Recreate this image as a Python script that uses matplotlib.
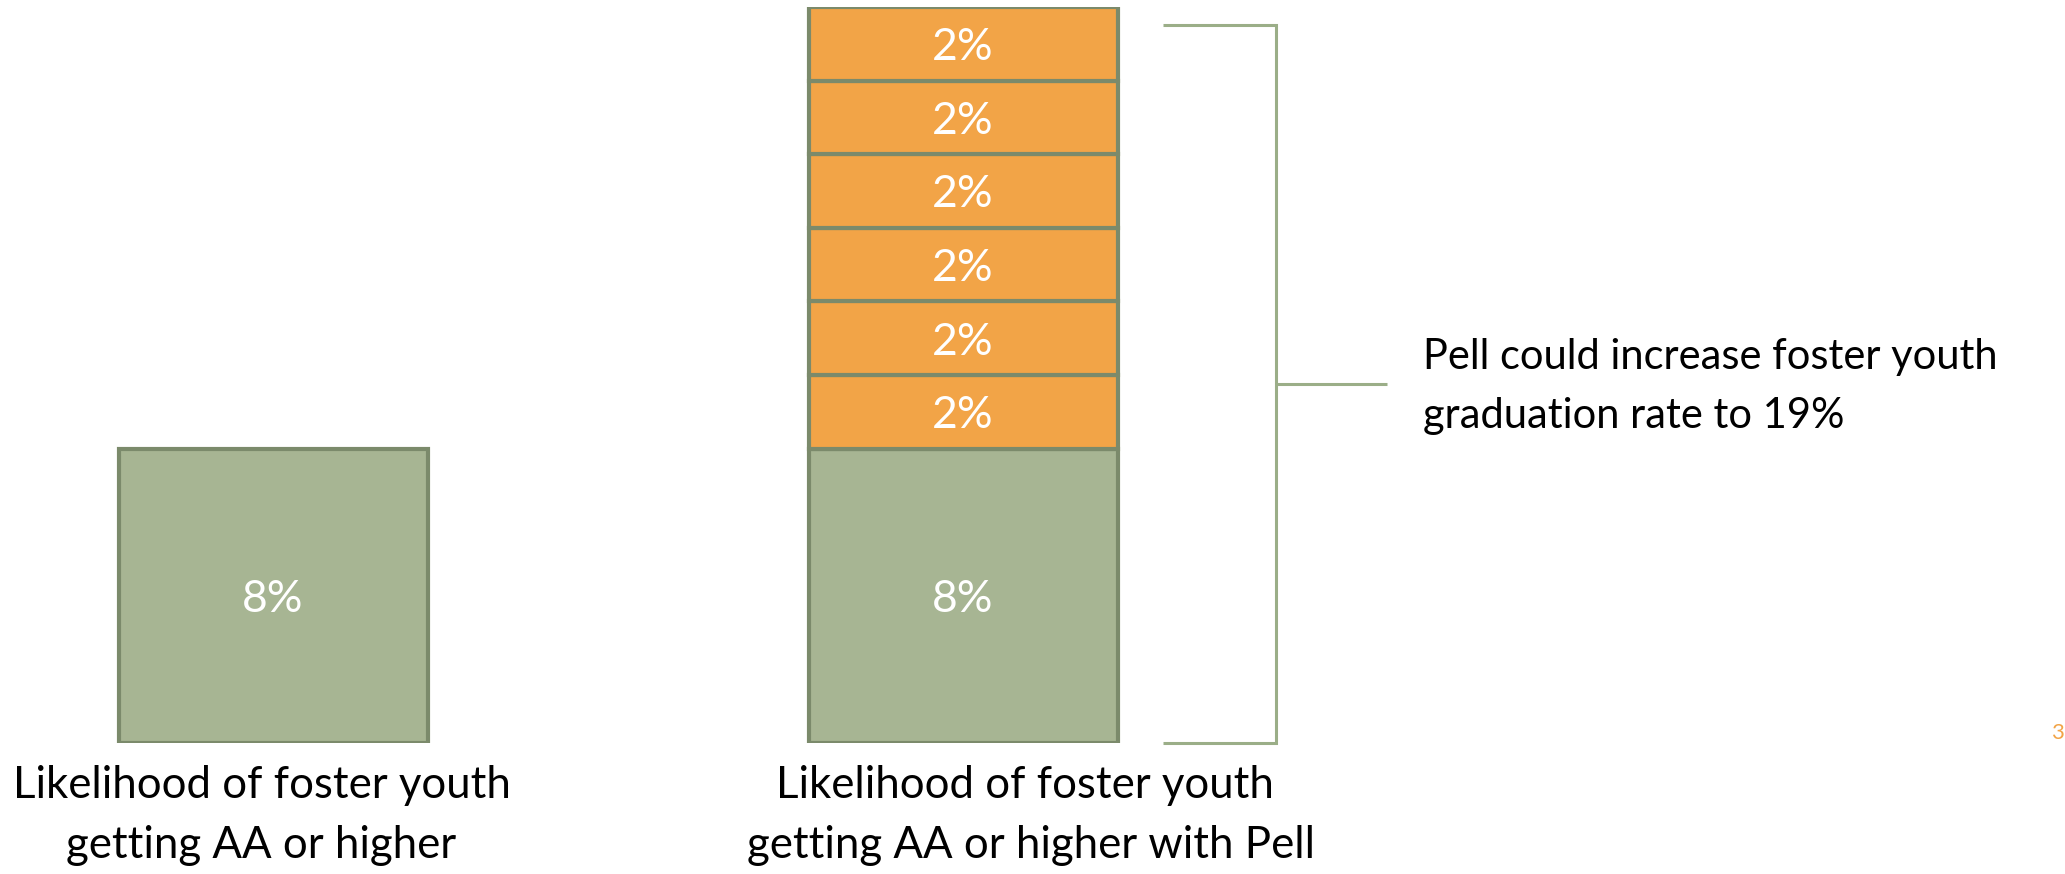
import matplotlib
matplotlib.use("Agg")
import matplotlib.pyplot as plt

# Data
base_rate = 8          # % of foster youth getting AA or higher
pell_gains = [2, 2, 2, 2, 2, 2]   # incremental gains stacked on top with Pell
bar_labels = [
    ["Likelihood of foster youth", "getting AA or higher"],
    ["Likelihood of foster youth", "getting AA or higher with Pell"],
]
callout = ["Pell could increase foster youth", "graduation rate to 19%"]
callout_total = 19.5   # top of the bracket, in %
page_number = "3"

GREEN = "#A7B593"
EDGE = "#7B8A6B"
ORANGE = "#F2A447"
BRACKET = "#9BAE88"
FONT = "Lato"

W, H, DPI = 2065, 874, 100
fig = plt.figure(figsize=(W / DPI, H / DPI), dpi=DPI)
fig.patch.set_facecolor("white")

# Axes spans the full width; y runs 0..20 % over the bar area
ax = fig.add_axes([0, (H - 743) / H, 1, 736 / H])
px_per_unit = 690.0
ax.set_xlim(-273 / px_per_unit, (W - 273) / px_per_unit)
ax.set_ylim(0, 20)
ax.axis("off")

bar_w = 309 / px_per_unit
lw = 3.0
label_kw = dict(ha="center", va="center_baseline", color="white",
                fontsize=32, family=FONT)

# Left bar: base rate only
ax.bar(0, base_rate, width=bar_w, color=GREEN, edgecolor=EDGE, linewidth=lw)
ax.text(0, base_rate / 2, f"{base_rate}%", **label_kw)

# Right bar: base rate plus stacked Pell gains
ax.bar(1, base_rate, width=bar_w, color=GREEN, edgecolor=EDGE, linewidth=lw)
ax.text(1, base_rate / 2, f"{base_rate}%", **label_kw)
bottom = base_rate
for g in pell_gains:
    ax.bar(1, g, bottom=bottom, width=bar_w, color=ORANGE, edgecolor=EDGE,
           linewidth=lw)
    ax.text(1, bottom + g / 2, f"{g}%", **label_kw)
    bottom += g

# Bracket spanning the right bar
bx0 = 1 + (1163 - 963) / px_per_unit
bx1 = 1 + (1276 - 963) / px_per_unit
bx2 = 1 + (1387 - 963) / px_per_unit
ax.plot([bx0, bx1, bx1, bx0], [callout_total, callout_total, 0, 0],
        color=BRACKET, linewidth=2.2, solid_joinstyle="miter",
        solid_capstyle="butt", clip_on=False)
ymid = (743 - 384) / 36.8
ax.plot([bx1, bx2], [ymid, ymid], color=BRACKET, linewidth=2.2,
        solid_capstyle="butt", clip_on=False)

# Callout text
for i, line in enumerate(callout):
    fig.text(1423 / W, 1 - (369 + 59 * i) / H, line, ha="left", va="baseline",
             fontsize=30, family=FONT, color="black")

# Category labels under the bars
label_centers = [[262, 261], [1025, 1031]]
for lines, centers in zip(bar_labels, label_centers):
    for i, (line, cx) in enumerate(zip(lines, centers)):
        fig.text(cx / W, 1 - (798 + 60 * i) / H, line, ha="center",
                 va="baseline", fontsize=31.5, family=FONT, color="black")

# Slide number
fig.text(2064 / W, 1 - 739 / H, page_number, ha="right", va="baseline",
         fontsize=16, family=FONT, color=ORANGE)

fig.savefig("out.png", dpi=DPI, facecolor="white")
